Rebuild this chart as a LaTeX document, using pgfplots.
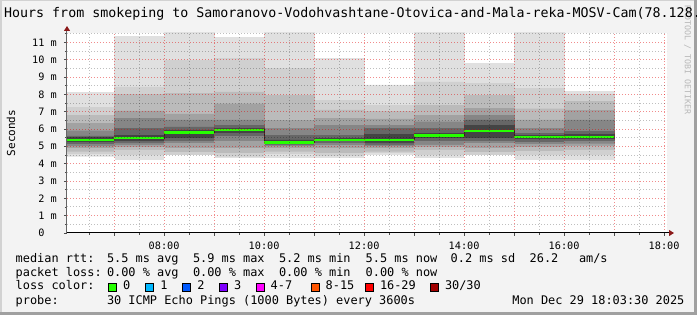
\documentclass[border=0pt]{standalone}
\usepackage{pgfplots}
\pgfplotsset{compat=1.18}
\usepackage{pgfplotstable}
\usepackage{fontspec}
\usetikzlibrary{arrows.meta}
\newfontfamily\mono{DejaVu Sans Mono}
\newcommand\titlefont{\mono\fontsize{13.3pt}{15pt}\selectfont}
\newcommand\legfont{\mono\fontsize{11.9pt}{14pt}\selectfont}
\newcommand\tickfont{\mono\fontsize{10.2pt}{12pt}\selectfont}
\newcommand\labfont{\mono\fontsize{11pt}{13pt}\selectfont}
\newcommand\wmfont{\mono\fontsize{8.3pt}{10pt}\selectfont}
\definecolor{bgc}{HTML}{F3F3F3}
\definecolor{shA}{HTML}{D2D2D2}
\definecolor{shB}{HTML}{A0A0A0}
\definecolor{cA}{HTML}{E0E0E0}
\definecolor{cB}{HTML}{D0D0D0}
\definecolor{cC}{HTML}{BBBBBB}
\definecolor{cD}{HTML}{A2A2A2}
\definecolor{cE}{HTML}{868686}
\definecolor{cF}{HTML}{666666}
\definecolor{cG}{HTML}{444444}
\definecolor{arrowred}{HTML}{8B1A1A}
\definecolor{gridred}{HTML}{E00000}
\definecolor{medgreen}{HTML}{26FF00}
\definecolor{lossA}{HTML}{26FF00}
\definecolor{lossB}{HTML}{00B8FF}
\definecolor{lossC}{HTML}{0059FF}
\definecolor{lossD}{HTML}{7E00FF}
\definecolor{lossE}{HTML}{FF00FF}
\definecolor{lossF}{HTML}{FF5500}
\definecolor{lossG}{HTML}{FF0000}
\definecolor{lossH}{HTML}{A10000}

\pgfplotstableread{
x    b0   b1   b2   b3   b4   b5   b6   med  t6   t5   t4   t3   t2   t1    max
6.5  4.40 4.54 4.69 4.88 5.00 5.10 5.22 5.38 5.50 5.60 5.90 6.33 6.80 7.25  8.13
7.5  4.21 4.50 4.80 4.95 5.08 5.20 5.30 5.48 5.65 6.04 6.62 7.04 7.98 8.43  11.33
8.5  4.46 4.50 4.65 4.88 5.17 5.30 5.46 5.80 5.94 6.13 6.52 6.88 8.04 9.97  11.60
9.5  4.31 4.40 4.60 4.88 5.27 5.56 5.75 5.96 6.04 6.23 6.52 7.46 8.14 10.07 11.27
10.5 4.31 4.54 4.69 4.88 4.98 5.08 5.15 5.22 5.37 5.65 6.04 6.50 7.94 9.50  11.60
11.5 4.31 4.45 4.60 4.88 5.05 5.17 5.30 5.38 5.46 5.65 6.23 6.62 7.10 7.65  10.07
12.5 4.50 4.60 4.69 4.88 5.00 5.08 5.20 5.38 5.70 6.04 6.20 6.59 7.00 7.36  8.55
13.5 4.31 4.50 4.79 4.95 5.08 5.30 5.45 5.63 5.75 6.04 6.42 6.80 7.36 8.72  11.60
14.5 4.46 4.50 4.65 4.88 5.17 5.30 5.46 5.90 6.23 6.52 6.80 7.19 7.94 8.62  9.78
15.5 4.19 4.50 4.70 4.95 5.10 5.25 5.40 5.56 5.65 5.75 6.04 6.52 7.17 8.33  11.60
16.5 4.21 4.50 4.79 5.00 5.15 5.30 5.40 5.56 5.70 5.85 6.52 7.07 7.60 8.00  8.17
}\smoke

\pgfplotstableread{
x  med
6  5.38
7  5.48
8  5.80
9  5.96
10 5.22
11 5.38
12 5.38
13 5.63
14 5.90
15 5.56
16 5.56
17 5.56
}\median

\begin{document}
\begin{tikzpicture}
\useasboundingbox (0pt,0pt) rectangle (697pt,315pt);
\fill[bgc] (0pt,0pt) rectangle (697pt,315pt);
\fill[shA] (0pt,0pt) rectangle (1.5pt,315pt);
\fill[shA] (0pt,313.5pt) rectangle (697pt,315pt);
\fill[shB] (0pt,0pt) rectangle (697pt,2.7pt);
\fill[shB] (694.3pt,0pt) rectangle (697pt,315pt);

\node[rotate=-90, font=\wmfont, text=black!28, inner sep=0pt] at (687.5pt,255pt) {RRDTOOL / TOBI OETIKER};

\begin{axis}[
  at={(67pt,82pt)}, anchor=south west,
  width=600pt, height=200pt, scale only axis,
  xmin=6.0583, xmax=18.0583, ymin=0, ymax=11.54,
  axis background/.style={fill=white},
  axis x line=bottom, axis y line=left,
  axis on top,
  x axis line style={draw=black, line width=1pt, -{Triangle[length=5pt,width=6pt,color=arrowred]}, shorten >=-7pt},
  y axis line style={draw=black!60, line width=1pt, -{Triangle[length=5pt,width=6pt,color=arrowred]}, shorten >=-7pt},
  xtick={7,8,...,18},
  xticklabels={{},08:00,{},10:00,{},12:00,{},14:00,{},16:00,{},18:00},
  minor xtick={6.5,7.5,...,17.5},
  ytick={0,1,...,11},
  yticklabels={0\phantom{\ m},1 m,2 m,3 m,4 m,5 m,6 m,7 m,8 m,9 m,10 m,11 m},
  minor ytick={0.5,1.5,...,11.5},
  grid=both,
  major grid style={draw=gridred, opacity=0.45, line width=1pt, dash pattern=on 1pt off 2pt},
  minor grid style={draw=black, opacity=0.25, line width=1pt, dash pattern=on 1pt off 2pt},
  tick align=outside,
  major tick length=3pt, minor tick length=2pt,
  tick style={draw=black!70, line width=0.8pt},
  xticklabel style={font=\tickfont, inner sep=0pt, anchor=north, yshift=-6pt},
  yticklabel style={font=\tickfont, inner sep=0pt, anchor=east, xshift=-7pt},
  ylabel={Seconds},
  ylabel style={font=\labfont, at={(axis description cs:-0.0933,0.5)}, anchor=center},
  clip=true,
]
\addplot[ybar, bar width=1, bar shift=0pt, fill=cA, draw=cA, line width=0.4pt] table[x=x,y=max]{\smoke};
\addplot[ybar, bar width=1, bar shift=0pt, fill=cB, draw=cB, line width=0.4pt] table[x=x,y=t1]{\smoke};
\addplot[ybar, bar width=1, bar shift=0pt, fill=cC, draw=cC, line width=0.4pt] table[x=x,y=t2]{\smoke};
\addplot[ybar, bar width=1, bar shift=0pt, fill=cD, draw=cD, line width=0.4pt] table[x=x,y=t3]{\smoke};
\addplot[ybar, bar width=1, bar shift=0pt, fill=cE, draw=cE, line width=0.4pt] table[x=x,y=t4]{\smoke};
\addplot[ybar, bar width=1, bar shift=0pt, fill=cF, draw=cF, line width=0.4pt] table[x=x,y=t5]{\smoke};
\addplot[ybar, bar width=1, bar shift=0pt, fill=cG, draw=cG, line width=0.4pt] table[x=x,y=t6]{\smoke};
\addplot[ybar, bar width=1, bar shift=0pt, fill=cF, draw=cF, line width=0.4pt] table[x=x,y=b6]{\smoke};
\addplot[ybar, bar width=1, bar shift=0pt, fill=cE, draw=cE, line width=0.4pt] table[x=x,y=b5]{\smoke};
\addplot[ybar, bar width=1, bar shift=0pt, fill=cD, draw=cD, line width=0.4pt] table[x=x,y=b4]{\smoke};
\addplot[ybar, bar width=1, bar shift=0pt, fill=cC, draw=cC, line width=0.4pt] table[x=x,y=b3]{\smoke};
\addplot[ybar, bar width=1, bar shift=0pt, fill=cB, draw=cB, line width=0.4pt] table[x=x,y=b2]{\smoke};
\addplot[ybar, bar width=1, bar shift=0pt, fill=cA, draw=cA, line width=0.4pt] table[x=x,y=b1]{\smoke};
\addplot[ybar, bar width=1, bar shift=0pt, fill=white, draw=white, line width=0.4pt] table[x=x,y=b0]{\smoke};
\addplot[const plot, draw=black!85, line width=0.8pt, mark=none] table[x=x,y=med]{\median};
\addplot[jump mark left, draw=medgreen, line width=2.2pt, mark=none] table[x=x,y=med]{\median};
\end{axis}

\node[anchor=base west, inner sep=0pt, font=\titlefont] at (4pt,297pt) {Hours from smokeping to Samoranovo-Vodohvashtane-Otovica-and-Mala-reka-MOSV-Cam(78.128.};

\begin{scope}[every node/.style={anchor=base west, inner sep=0pt, font=\legfont}]
\node at (15.5pt,52.3pt) {median rtt:};
\node at (106.8pt,52.3pt) {5.5 ms avg};
\node at (192.8pt,52.3pt) {5.9 ms max};
\node at (278.8pt,52.3pt) {5.2 ms min};
\node at (365.5pt,52.3pt) {5.5 ms now};
\node at (450.5pt,52.3pt) {0.2 ms sd};
\node at (529.5pt,52.3pt) {26.2};
\node at (578.8pt,52.3pt) {am/s};
\node at (15.5pt,38.3pt) {packet loss:};
\node at (106.8pt,38.3pt) {0.00 \% avg};
\node at (192.8pt,38.3pt) {0.00 \% max};
\node at (278.8pt,38.3pt) {0.00 \% min};
\node at (365.5pt,38.3pt) {0.00 \% now};
\node at (15.5pt,25pt) {loss color:};
\node at (122.8pt,25pt) {0};
\node at (160.2pt,25pt) {1};
\node at (197.2pt,25pt) {2};
\node at (233.8pt,25pt) {3};
\node at (270.5pt,25pt) {4-7};
\node at (325.5pt,25pt) {8-15};
\node at (379.8pt,25pt) {16-29};
\node at (444.8pt,25pt) {30/30};
\node at (15.5pt,10.7pt) {probe:};
\node at (106.8pt,10.7pt) {30 ICMP Echo Pings (1000 Bytes) every 3600s};
\node at (512.2pt,10.7pt) {Mon Dec 29 18:03:30 2025};
\end{scope}
\begin{scope}[line width=0.8pt]
\filldraw[fill=lossA, draw=black] (108.3pt,23.7pt) rectangle ++(8pt,8pt);
\filldraw[fill=lossB, draw=black] (145.7pt,23.7pt) rectangle ++(8pt,8pt);
\filldraw[fill=lossC, draw=black] (182.7pt,23.7pt) rectangle ++(8pt,8pt);
\filldraw[fill=lossD, draw=black] (219.3pt,23.7pt) rectangle ++(8pt,8pt);
\filldraw[fill=lossE, draw=black] (256pt,23.7pt) rectangle ++(8pt,8pt);
\filldraw[fill=lossF, draw=black] (311pt,23.7pt) rectangle ++(8pt,8pt);
\filldraw[fill=lossG, draw=black] (365.3pt,23.7pt) rectangle ++(8pt,8pt);
\filldraw[fill=lossH, draw=black] (430.3pt,23.7pt) rectangle ++(8pt,8pt);
\end{scope}
\end{tikzpicture}
\end{document}
